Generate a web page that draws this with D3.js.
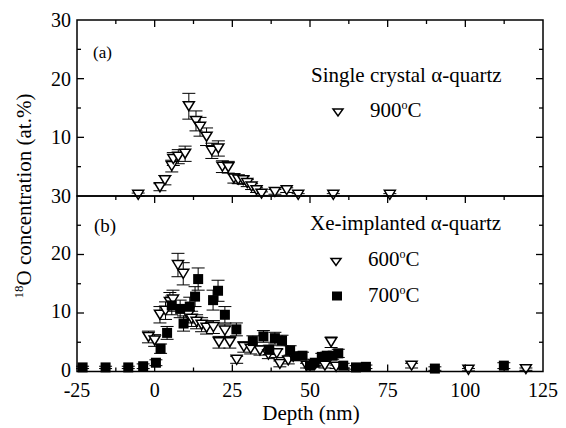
<!DOCTYPE html>
<html>
<head>
<meta charset="utf-8">
<script src="https://cdn.jsdelivr.net/npm/d3@7"></script>
<style>
  body { margin: 0; background: #fff; }
  svg text { font-family: "Liberation Serif", "Times New Roman", serif; fill: #000; }
</style>
</head>
<body>
<div id="content"></div>
<script>
// axis ticks
let xTicks = [-25, 0, 25, 50, 75, 100, 125];
let yTicksA = [10, 20, 30];
let yTicksB = [0, 10, 20, 30];

// (a) single crystal, 900 C
let depthA = [-5.3, 1.7, 3.3, 5.5, 6.0, 7.6, 9.8, 11.0, 13.3, 14.6, 16.7, 18.4, 20.5, 21.8, 23.7, 25.5, 26.9, 28.5, 29.8, 31.2, 32.8, 34.4, 38.7, 42.5, 46.2, 57.5, 75.7];
let concA  = [0.2, 1.5, 2.7, 5.1, 6.3, 6.7, 7.2, 15.3, 12.8, 11.8, 10.1, 7.7, 8.1, 5.0, 4.9, 3.0, 2.8, 2.7, 2.2, 1.6, 1.0, 0.4, 0.7, 1.0, 0.2, 0.2, 0.2];
let errA   = [0.3, 0.6, 0.8, 1.0, 1.1, 1.2, 1.3, 2.2, 1.7, 1.6, 1.5, 1.3, 1.3, 1.0, 1.0, 0.8, 0.7, 0.7, 0.6, 0.5, 0.4, 0.3, 0.4, 0.4, 0.2, 0.2, 0.2];

// (b) Xe-implanted, 600 C
let depth600 = [-2.0, 0.0, 1.7, 3.5, 4.9, 5.9, 7.5, 9.2, 10.8, 11.9, 13.5, 15.1, 16.7, 18.9, 20.7, 22.6, 24.2, 26.4, 28.7, 30.9, 33.9, 36.6, 39.3, 40.3, 43.0, 44.6, 48.9, 51.6, 54.8, 56.8, 58.4, 82.7, 101.0, 119.5];
let conc600  = [5.9, 5.3, 9.7, 10.4, 11.9, 12.3, 18.2, 16.7, 9.6, 9.0, 8.5, 8.0, 7.5, 7.6, 5.0, 7.0, 5.0, 2.0, 4.2, 3.9, 3.6, 2.9, 3.1, 1.3, 1.9, 2.5, 1.0, 1.2, 1.0, 5.0, 0.8, 1.0, 0.3, 0.4];
let err600   = [1.0, 1.0, 1.4, 1.5, 1.6, 1.6, 2.0, 1.9, 1.3, 1.3, 1.2, 1.2, 1.1, 1.1, 1.0, 1.1, 1.0, 0.6, 0.9, 0.9, 0.8, 0.7, 0.7, 0.5, 0.6, 0.6, 0.4, 0.4, 0.4, 0.9, 0.3, 0.4, 0.2, 0.2];

// (b) Xe-implanted, 700 C
let depth700 = [-23.2, -15.8, -8.5, -3.7, 0.4, 1.9, 4.0, 5.5, 8.2, 9.3, 11.3, 13.0, 14.0, 18.8, 20.4, 22.6, 26.3, 31.6, 35.0, 36.9, 38.7, 41.0, 43.6, 45.2, 47.6, 50.0, 51.5, 53.8, 55.4, 57.3, 59.1, 60.7, 64.8, 68.0, 90.2, 112.4];
let conc700  = [0.7, 0.7, 0.7, 0.9, 1.5, 3.9, 6.6, 11.3, 10.7, 8.2, 11.1, 12.8, 15.8, 12.2, 13.8, 9.7, 7.2, 5.2, 6.0, 3.7, 5.7, 5.3, 3.6, 2.6, 2.7, 1.0, 1.5, 2.5, 2.7, 2.7, 3.1, 1.0, 0.7, 0.8, 0.5, 1.0];
let err700   = [0.2, 0.2, 0.2, 0.4, 0.5, 0.8, 1.1, 1.6, 1.5, 1.3, 1.6, 1.7, 1.9, 1.7, 1.8, 1.4, 1.1, 0.9, 1.0, 0.8, 1.0, 0.9, 0.8, 0.6, 0.6, 0.4, 0.5, 0.6, 0.6, 0.6, 0.7, 0.4, 0.3, 0.3, 0.3, 0.5];

const W = 566, H = 428;
const left = 77, right = 543, topA = 20, mid = 196, bottom = 371.5;

let svg = d3.select("#content")
    .append("svg")
    .attr("width", W)
    .attr("height", H);

const x = d3.scaleLinear().domain([-25, 125]).range([left, right]);
const yA = d3.scaleLinear().domain([0, 30]).range([mid, topA]);
const yB = d3.scaleLinear().domain([0, 30]).range([bottom, mid]);

const tri = "M-5.5,-4.5L5.5,-4.5L0,4.5Z";
const triSmall = "M-5,-3.5L5,-3.5L0,3.5Z";

function zip(xs, ys, es) {
    return xs.map(function(d, i) { return {x: d, y: ys[i], e: es[i]}; });
}

function drawErrors(g, data, y) {
    let eg = g.append("g").attr("stroke", "#000").attr("stroke-width", 1);
    data.forEach(function(d) {
        let cx = x(d.x);
        let hi = y(d.y + d.e), lo = y(Math.max(0, d.y - d.e));
        eg.append("line").attr("x1", cx).attr("x2", cx).attr("y1", hi).attr("y2", lo);
        eg.append("line").attr("x1", cx - 6.5).attr("x2", cx + 6.5).attr("y1", hi).attr("y2", hi);
        eg.append("line").attr("x1", cx - 6.5).attr("x2", cx + 6.5).attr("y1", lo).attr("y2", lo);
    });
}

function drawTriangles(g, data, y) {
    g.append("g").selectAll("path")
        .data(data)
        .enter()
        .append("path")
        .attr("d", tri)
        .attr("transform", function(d) { return "translate(" + x(d.x) + "," + y(d.y) + ")"; })
        .attr("fill", "#fff")
        .attr("stroke", "#000")
        .attr("stroke-width", 1.5);
}

function drawSquares(g, data, y) {
    g.append("g").selectAll("rect")
        .data(data)
        .enter()
        .append("rect")
        .attr("x", function(d) { return x(d.x) - 5; })
        .attr("y", function(d) { return y(d.y) - 5; })
        .attr("width", 10)
        .attr("height", 10)
        .attr("fill", "#000");
}

// data, panel (a)
let dataA = zip(depthA, concA, errA);
let gA = svg.append("g");
drawErrors(gA, dataA, yA);
drawTriangles(gA, dataA, yA);

// data, panel (b)
let data600 = zip(depth600, conc600, err600);
let data700 = zip(depth700, conc700, err700);
let gB = svg.append("g");
drawErrors(gB, data600, yB);
drawErrors(gB, data700, yB);
drawTriangles(gB, data600, yB);
drawSquares(gB, data700, yB);

// frames
let frame = svg.append("g").attr("fill", "none").attr("stroke", "#000").attr("stroke-width", 1.5);
frame.append("rect").attr("x", left).attr("y", topA).attr("width", right - left).attr("height", mid - topA);
frame.append("rect").attr("x", left).attr("y", mid).attr("width", right - left).attr("height", bottom - mid);

// ticks (inward)
let ticks = svg.append("g").attr("stroke", "#000").attr("stroke-width", 1.3);
let xMinor = d3.range(-12.5, 125, 25);
function xTickLines(yPos, dir) {
    xTicks.slice(1, -1).forEach(function(t) {
        ticks.append("line").attr("x1", x(t)).attr("x2", x(t)).attr("y1", yPos).attr("y2", yPos + dir * 7);
    });
    xMinor.forEach(function(t) {
        ticks.append("line").attr("x1", x(t)).attr("x2", x(t)).attr("y1", yPos).attr("y2", yPos + dir * 4);
    });
}
xTickLines(topA, 1);
xTickLines(mid, 1);
xTickLines(bottom, -1);

function yTickLines(y) {
    [5, 10, 15, 20, 25].forEach(function(t) {
        let len = (t % 10 === 0) ? 7 : 4;
        ticks.append("line").attr("x1", left).attr("x2", left + len).attr("y1", y(t)).attr("y2", y(t));
        ticks.append("line").attr("x1", right).attr("x2", right - len).attr("y1", y(t)).attr("y2", y(t));
    });
}
yTickLines(yA);
yTickLines(yB);

// tick labels
svg.append("g").selectAll("text")
    .data(xTicks)
    .enter()
    .append("text")
    .attr("x", function(d) { return x(d); })
    .attr("y", bottom + 25.5)
    .attr("text-anchor", "middle")
    .style("font-size", "20px")
    .text(function(d) { return d; });

svg.append("g").selectAll("text")
    .data(yTicksA)
    .enter()
    .append("text")
    .attr("x", left - 6)
    .attr("y", function(d) { return yA(d) + 7; })
    .attr("text-anchor", "end")
    .style("font-size", "20px")
    .text(function(d) { return d; });

svg.append("g").selectAll("text")
    .data(yTicksB.filter(function(d) { return d !== 30; }))
    .enter()
    .append("text")
    .attr("x", left - 6)
    .attr("y", function(d) { return yB(d) + 5; })
    .attr("text-anchor", "end")
    .style("font-size", "20px")
    .text(function(d) { return d; });

// axis titles
svg.append("text")
    .attr("x", 311)
    .attr("y", 420)
    .attr("text-anchor", "middle")
    .style("font-size", "21px")
    .text("Depth (nm)");

let yl = svg.append("text")
    .attr("transform", "translate(31," + mid + ") rotate(-90)")
    .attr("text-anchor", "middle")
    .style("font-size", "21px");
yl.append("tspan").attr("dy", "-8").style("font-size", "13px").text("18");
yl.append("tspan").attr("dy", "8").text("O concentration (at.%)");

// annotations
svg.append("text").attr("x", 93).attr("y", 58).style("font-size", "17px").text("(a)");
svg.append("text").attr("x", 94).attr("y", 232).style("font-size", "19px").text("(b)");

svg.append("text").attr("x", 311).attr("y", 82).style("font-size", "21px").text("Single crystal α-quartz");
svg.append("text").attr("x", 310).attr("y", 230).style("font-size", "21px").text("Xe-implanted α-quartz");

function degLabel(xp, yp, temp) {
    let t = svg.append("text").attr("x", xp).attr("y", yp).style("font-size", "21px");
    t.append("tspan").text(temp);
    t.append("tspan").attr("dy", "-8").style("font-size", "12px").text("o");
    t.append("tspan").attr("dy", "8").text("C");
}

svg.append("path").attr("d", triSmall).attr("transform", "translate(338,112.5)")
    .attr("fill", "#fff").attr("stroke", "#000").attr("stroke-width", 1.5);
degLabel(370, 117, "900");

svg.append("path").attr("d", triSmall).attr("transform", "translate(336,262)")
    .attr("fill", "#fff").attr("stroke", "#000").attr("stroke-width", 1.5);
degLabel(368, 266, "600");

svg.append("rect").attr("x", 332).attr("y", 291.5).attr("width", 10).attr("height", 9).attr("fill", "#000");
degLabel(368, 302, "700");

// the "30" at the panel boundary
svg.append("text")
    .attr("x", left - 6)
    .attr("y", mid + 7)
    .attr("text-anchor", "end")
    .style("font-size", "20px")
    .text("30");
</script>
</body>
</html>
